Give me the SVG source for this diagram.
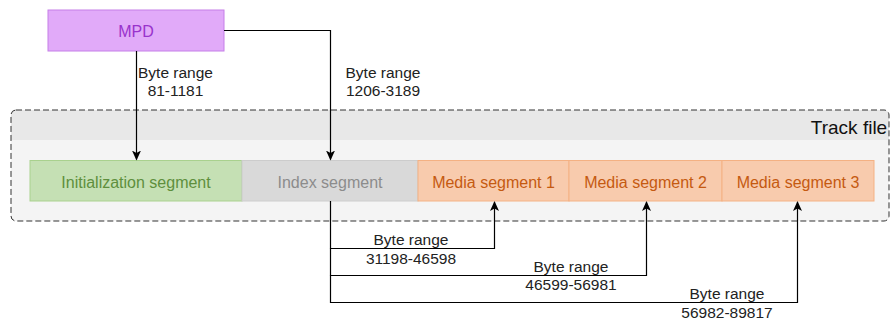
<svg xmlns="http://www.w3.org/2000/svg" width="893" height="323" viewBox="0 0 893 323">
<style>
text{font-family:"Liberation Sans",Arial,sans-serif;text-anchor:middle;dominant-baseline:central}
.lbl{font-size:15.5px;fill:#222}
.seg{font-size:16px}
.conn{fill:none;stroke:#000;stroke-width:1.2}
</style>
<defs>
<marker id="ah" viewBox="0 0 10 10" refX="9" refY="5" markerWidth="10" markerHeight="10" markerUnits="userSpaceOnUse" orient="auto">
<path d="M0,0.5 L10,5 L0,9.5 L2.5,5 Z" fill="#000"/>
</marker>
</defs>
<g id="track-file">
<rect x="11" y="110" width="878" height="111" rx="5" fill="#f4f4f4"/>
<path d="M16,110 H884 A5,5 0 0 1 889,115 V140 H11 V115 A5,5 0 0 1 16,110 Z" fill="#e8e8e8"/>
<rect x="11" y="110" width="878" height="111" rx="5" fill="none" stroke="#333" stroke-dasharray="6,3"/>
<text x="849" y="127" style="font-size:19px;fill:#111">Track file</text>
</g>
<g id="mpd">
<rect x="48" y="10" width="176" height="41" fill="#e1aaf9" stroke="#c57fe8"/>
<text class="seg" x="136" y="31" fill="#9933cc">MPD</text>
</g>
<g id="init">
<rect x="30" y="160.5" width="212" height="40.5" fill="#c5e0b4" stroke="#a9d18e"/>
<text class="seg" x="136" y="182" fill="#5e8f3d">Initialization segment</text>
</g>
<g id="index">
<rect x="242" y="160.5" width="176" height="40.5" fill="#d9d9d9" stroke="#cccccc"/>
<text class="seg" x="330" y="182" fill="#8c8c8c">Index segment</text>
</g>
<g id="media1">
<rect x="418" y="160.5" width="151" height="40.5" fill="#f8cbad" stroke="#f4b183"/>
<text class="seg" x="493.5" y="182" fill="#c55a11">Media segment 1</text>
</g>
<g id="media2">
<rect x="569" y="160.5" width="153" height="40.5" fill="#f8cbad" stroke="#f4b183"/>
<text class="seg" x="645.5" y="182" fill="#c55a11">Media segment 2</text>
</g>
<g id="media3">
<rect x="722" y="160.5" width="152" height="40.5" fill="#f8cbad" stroke="#f4b183"/>
<text class="seg" x="798" y="182" fill="#c55a11">Media segment 3</text>
</g>
<g id="connectors">
<path class="conn" d="M136.5,51 V159.5" marker-end="url(#ah)"/>
<path class="conn" d="M224,30.5 H330.5 V159.5" marker-end="url(#ah)"/>
<path class="conn" d="M330.5,201 V248.5 H494.5 V202" marker-end="url(#ah)"/>
<path class="conn" d="M330.5,248.5 V275.5 H646.5 V202" marker-end="url(#ah)"/>
<path class="conn" d="M330.5,275.5 V302.5 H797.5 V202" marker-end="url(#ah)"/>
<text class="lbl" x="175.5" y="72">Byte range</text>
<text class="lbl" x="175.5" y="90">81-1181</text>
<text class="lbl" x="383" y="72">Byte range</text>
<text class="lbl" x="383" y="90">1206-3189</text>
<text class="lbl" x="411" y="239">Byte range</text>
<text class="lbl" x="411" y="258">31198-46598</text>
<text class="lbl" x="571" y="266">Byte range</text>
<text class="lbl" x="571" y="284">46599-56981</text>
<text class="lbl" x="727" y="293">Byte range</text>
<text class="lbl" x="727" y="312">56982-89817</text>
</g>
</svg>
